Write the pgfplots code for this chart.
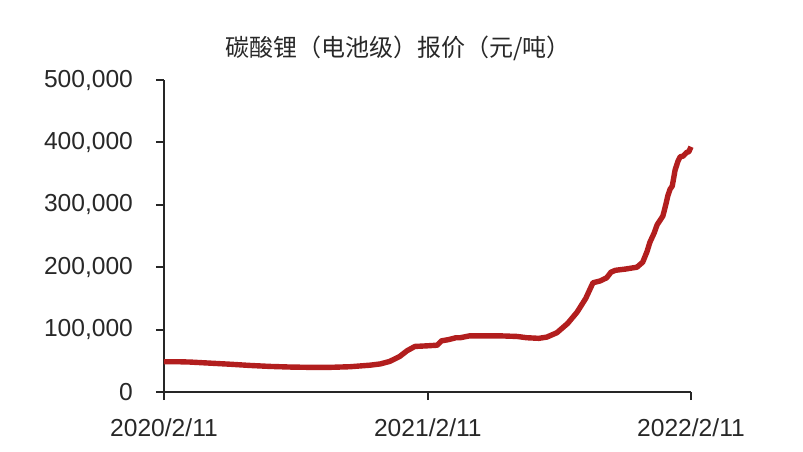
\documentclass[border=0pt]{standalone}
\usepackage{pgfplots}
\pgfplotsset{compat=1.18}
\usepackage{fontspec}
\setmainfont{Liberation Sans}
\newfontfamily\cjk{Noto Sans CJK SC}
\definecolor{linered}{RGB}{178,30,30}
\definecolor{txt}{RGB}{40,40,40}

% x: days since 2020-02-11, y: yuan per tonne
\pgfplotstableread{
day price
0 48500
20 48500
36 48000
60 46500
92 44500
120 42500
147 41000
175 40000
202 39500
230 39500
258 40500
286 43000
300 45000
313 49000
327 57000
337 66000
348 73000
365 74000
379 75000
385 82000
395 84000
405 87000
411 87000
424 90000
445 90000
466 90000
490 89000
503 87000
520 86000
531 88000
545 95000
560 110000
573 128000
585 150000
595 175000
605 178000
614 183000
620 192000
626 195000
640 197000
656 200000
664 208000
670 225000
674 240000
680 255000
684 268000
688 275000
692 282000
696 300000
699 315000
702 325000
705 330000
709 356000
713 370000
716 377000
720 378000
725 384000
728 385000
731 393000
}\pricedata

\begin{document}
\begin{tikzpicture}
\path[use as bounding box] (-82pt,-29.5pt) rectangle (319.5pt,196pt);
\node[font=\cjk\fontsize{12}{14}\selectfont, text=txt] at (117pt,172pt) {碳酸锂（电池级）报价（元/吨）};
\begin{axis}[
    at={(0,0)}, anchor=south west,
    scale only axis,
    width=263.5pt, height=156pt,
    axis lines=left,
    axis line style={-, line width=1pt, black!85},
    xmin=0, xmax=731,
    ymin=0, ymax=500000,
    xtick={0,366,731},
    xticklabels={2020/2/11,2021/2/11,2022/2/11},
    ytick={0,100000,200000,300000,400000,500000},
    scaled y ticks=false,
    tick align=outside,
    major tick length=4pt,
    tick style={line width=1pt, black!85},
    ticklabel style={font=\fontsize{12.3}{14}\selectfont, text=txt},
    xticklabel style={yshift=-6pt},
    yticklabel style={xshift=-8pt, /pgf/number format/.cd, fixed, 1000 sep={,}, assume math mode=true},
    clip=false,
]
\addplot[linered, line width=2.7pt, line join=round] table[x=day, y=price] {\pricedata};
\end{axis}
\end{tikzpicture}
\end{document}
